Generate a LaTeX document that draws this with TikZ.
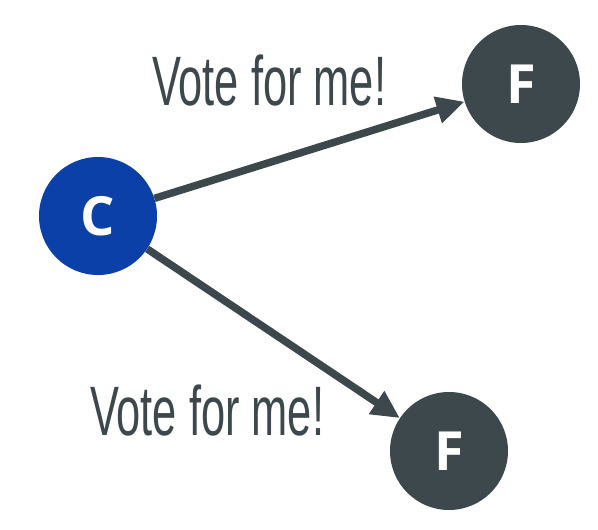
\documentclass[tikz,border=0pt]{standalone}
\usepackage{fontspec}
\usetikzlibrary{arrows.meta}
\newfontfamily\votefont[FakeStretch=0.62]{Liberation Sans}
\newfontfamily\letterfont{Open Sans}
\definecolor{slate}{HTML}{3C484B}
\definecolor{candblue}{HTML}{0A40A8}

\begin{document}
\begin{tikzpicture}[x=1pt, y=-1pt,
    member/.style={circle, minimum size=118pt, inner sep=0pt, text=white,
                   font=\letterfont\bfseries\fontsize{54}{58}\selectfont},
    vote/.style={draw=slate, line width=7.5pt, -{Triangle[length=28pt,width=26pt]}},
    saying/.style={text=slate, anchor=base west, inner sep=0pt,
                   font=\votefont\fontsize{70}{80}\selectfont}]
    % Frame
    \useasboundingbox (0,0) rectangle (598,530);
    % Candidate and followers
    \node[member, fill=candblue] (cand) at (98,216) {C};
    \node[member, fill=slate] (fol1) at (521,84) {F};
    \node[member, fill=slate] (fol2) at (449,451) {F};
    % Requests
    \draw[vote] (cand) -- (fol1);
    \draw[vote] (cand) -- (fol2);
    % Texts
    \node[saying] (say1) at (152,105) {Vote for me!};
    \node[saying] (say2) at (90,435) {Vote for me!};
\end{tikzpicture}
\end{document}
